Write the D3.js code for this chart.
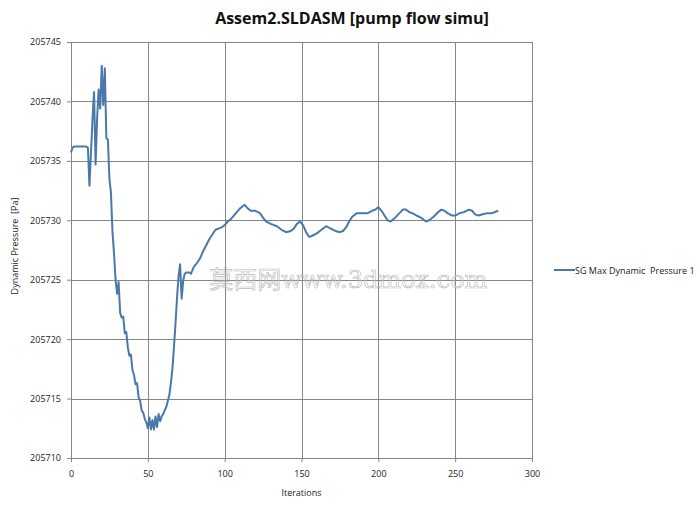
<!DOCTYPE html>
<html>
<head>
<meta charset="utf-8">
<script src="https://cdn.jsdelivr.net/npm/d3@7"></script>
<style>
  body { margin: 0; background: #fff; }
  text { font-family: "Open Sans", "Liberation Sans", sans-serif; white-space: pre; }
</style>
</head>
<body>
<svg id="chart"></svg>
<script>
// dữ liệu
const iterations = [0,1,2,4,6,8,10,11,12,14,15,16,17,18,19,20,21,22,23,24,25,26,27,28,29,30,31,32,33,34,35,36,37,38,39,40,41,42,43,44,45,46,47,48,49,50,51,52,53,54,55,56,57,58,59,60,61,62,63,64,65,66,67,68,69,70,71,72,73,74,75,77,78,80,82,84,86,88,90,92,94,96,98,100,102,104,106,108,110,112,113,115,117,120,123,125,127,130,134,137,140,143,145,147,149,151,153,155,157,160,163,166,169,172,175,177,179,181,183,186,190,193,196,198,200,202,204,206,208,210,213,216,218,220,222,225,228,231,233,236,239,241,243,245,248,250,253,256,259,261,263,265,268,271,274,276,278];
const pressure = [205735.7,205736.1,205736.2,205736.2,205736.2,205736.2,205736.2,205736.1,205732.9,205738.5,205740.8,205734.7,205738.6,205741.0,205739.4,205743.0,205739.7,205742.8,205736.9,205736.8,205733.5,205732.3,205729.0,205727.2,205725.0,205723.8,205724.8,205722.2,205721.8,205721.9,205720.5,205720.6,205719.3,205718.6,205718.7,205717.4,205717.0,205716.2,205716.3,205715.1,205714.8,205714.0,205713.8,205713.3,205713.0,205712.5,205713.4,205712.4,205713.2,205712.4,205713.5,205712.6,205713.7,205713.1,205713.5,205713.7,205714.0,205714.3,205714.8,205715.3,205716.3,205717.5,205719.3,205721.3,205723.5,205725.3,205726.3,205723.4,205724.9,205725.5,205725.6,205725.6,205725.5,205726.1,205726.4,205726.8,205727.4,205727.9,205728.4,205728.8,205729.2,205729.3,205729.4,205729.6,205729.9,205730.1,205730.4,205730.7,205731.0,205731.2,205731.3,205731.0,205730.8,205730.8,205730.6,205730.2,205729.9,205729.7,205729.5,205729.2,205729.0,205729.1,205729.3,205729.7,205729.9,205729.6,205729.0,205728.6,205728.7,205728.9,205729.2,205729.5,205729.3,205729.1,205729.0,205729.1,205729.4,205729.9,205730.3,205730.6,205730.6,205730.6,205730.8,205730.9,205731.1,205730.8,205730.4,205730.0,205729.9,205730.1,205730.5,205730.9,205730.9,205730.7,205730.6,205730.4,205730.2,205729.9,205730.0,205730.3,205730.7,205730.9,205730.8,205730.6,205730.4,205730.4,205730.6,205730.7,205730.9,205730.8,205730.5,205730.4,205730.5,205730.6,205730.6,205730.7,205730.8];
const xTicks = [0,50,100,150,200,250,300];
const yTicks = [205710,205715,205720,205725,205730,205735,205740,205745];
const seriesName = "SG Max Dynamic  Pressure 1";

const data = iterations.map((it, i) => ({ it: it, v: pressure[i] }));

const width = 700;
const height = 507;
const margin = { top: 42, right: 168, bottom: 49, left: 71 };
const w = width - margin.left - margin.right;
const h = height - margin.top - margin.bottom;

const svg = d3.select("#chart")
    .attr("width", width)
    .attr("height", height);

const g = svg.append("g")
    .attr("transform", `translate(${margin.left}, ${margin.top})`);

const x = d3.scaleLinear().domain([0, 300]).range([0, w]);
const y = d3.scaleLinear().domain([205710, 205745]).range([h, 0]);

// lưới
g.selectAll(".vgrid").data(xTicks).enter().append("line")
    .attr("x1", d => Math.round(x(d)) + 0.5).attr("x2", d => Math.round(x(d)) + 0.5)
    .attr("y1", 0).attr("y2", h)
    .attr("stroke", "#868686");
g.selectAll(".hgrid").data(yTicks).enter().append("line")
    .attr("y1", d => Math.round(y(d)) + 0.5).attr("y2", d => Math.round(y(d)) + 0.5)
    .attr("x1", 0).attr("x2", w)
    .attr("stroke", "#868686");

// trục
const xAxis = g.append("g")
    .attr("transform", `translate(0, ${h})`)
    .call(d3.axisBottom(x).tickValues(xTicks).tickSize(4).tickPadding(9));
const yAxis = g.append("g")
    .call(d3.axisLeft(y).tickValues(yTicks).tickSize(4).tickPadding(6).tickFormat(d3.format("d")));
[xAxis, yAxis].forEach(a => {
    a.select(".domain").attr("stroke", "#868686");
    a.selectAll(".tick line").attr("stroke", "#868686");
    a.selectAll("text").style("font-size", "9px").attr("fill", "#222")
        .style("font-family", "'Open Sans', sans-serif");
});

// watermark
g.append("text")
    .attr("x", x(90)).attr("y", y(205724.3))
    .attr("fill", "none").attr("stroke", "#bdbdbd").attr("stroke-width", 0.7)
    .style("font-family", "'DejaVu Serif', 'Noto Sans CJK SC', serif")
    .style("font-size", "24px")
    .text("莫西网www.3dmox.com");

// đường
g.append("path")
    .datum(data)
    .attr("fill", "none")
    .attr("stroke", "#4a78aa")
    .attr("stroke-width", 2)
    .attr("stroke-linejoin", "round")
    .attr("d", d3.line().x(d => x(d.it)).y(d => y(d.v)));

// tiêu đề
svg.append("text")
    .attr("x", 352).attr("y", 24)
    .attr("text-anchor", "middle")
    .style("font-size", "16px").style("font-weight", "bold")
    .attr("fill", "#111")
    .text("Assem2.SLDASM [pump flow simu]");

svg.append("text")
    .attr("x", margin.left + w / 2).attr("y", 496)
    .attr("text-anchor", "middle")
    .style("font-size", "9px").attr("fill", "#222")
    .text("Iterations");

svg.append("text")
    .attr("transform", `translate(18, ${margin.top + h / 2 - 4}) rotate(-90)`)
    .attr("text-anchor", "middle")
    .style("font-size", "9px").attr("fill", "#222")
    .text("Dynamic Pressure  [Pa]");

// chú thích
const lg = svg.append("g").attr("transform", "translate(554, 270)");
lg.append("line").attr("x1", 0).attr("x2", 21).attr("y1", 0).attr("y2", 0)
    .attr("stroke", "#4a78aa").attr("stroke-width", 2);
lg.append("text").attr("x", 21).attr("y", 3.5)
    .style("font-size", "9px").attr("fill", "#222")
    .text(seriesName);
</script>
</body>
</html>
